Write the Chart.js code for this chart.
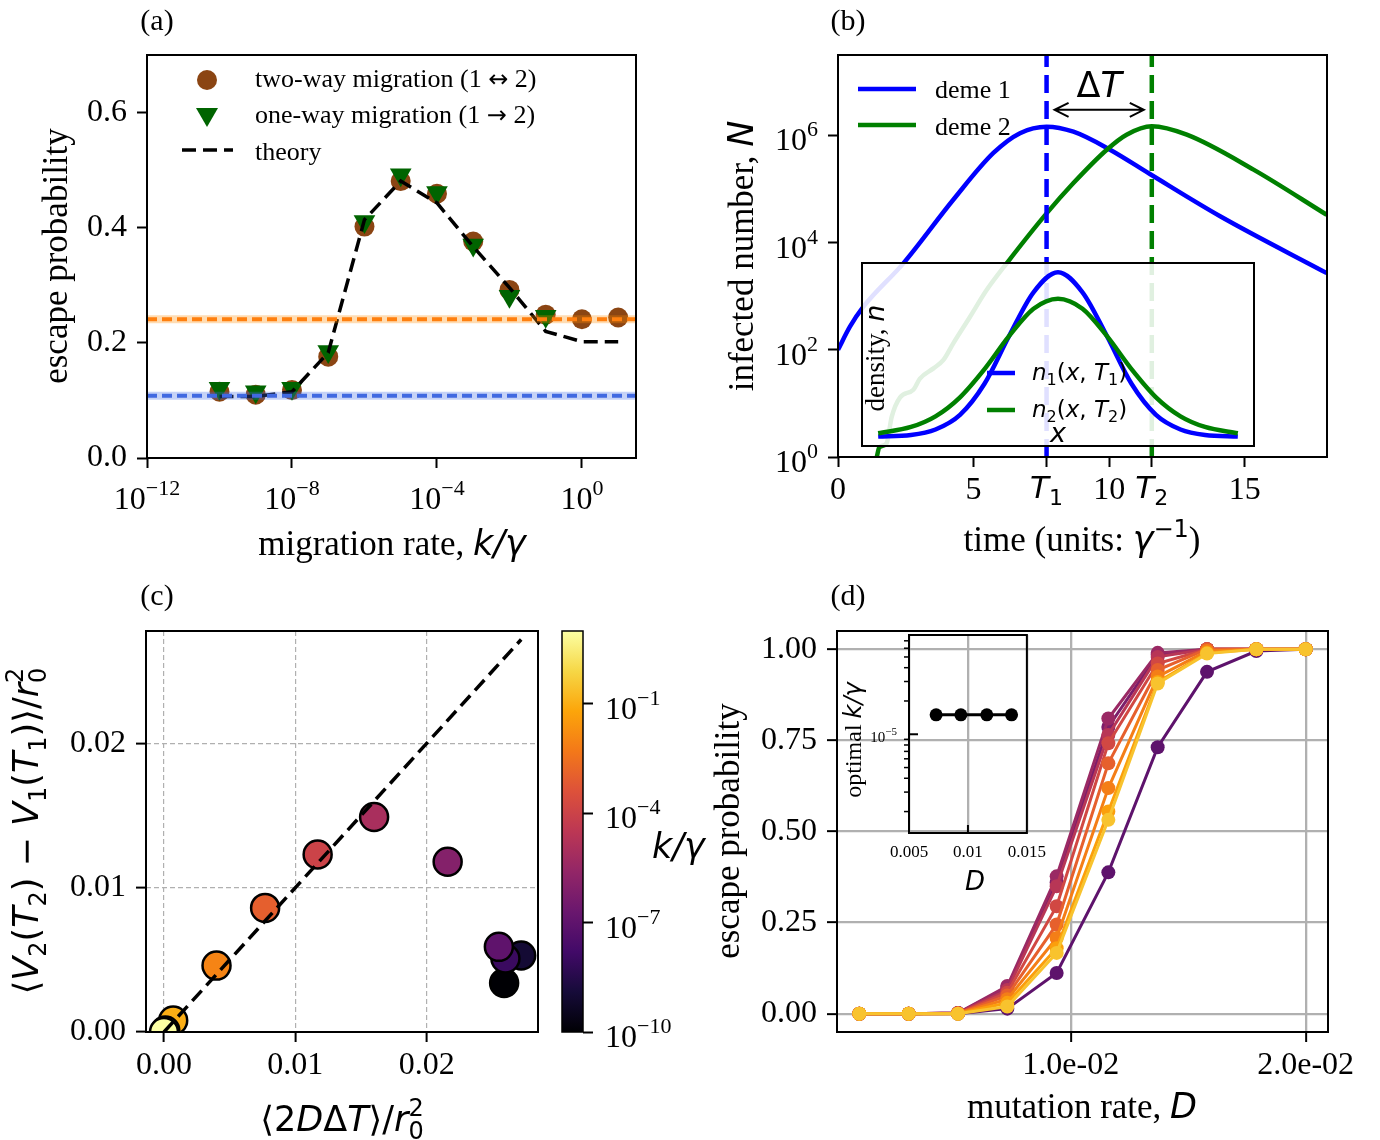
<!DOCTYPE html>
<html>
<head>
<meta charset="utf-8">
<script src="https://cdn.jsdelivr.net/npm/chart.js@4.4.1/dist/chart.umd.min.js"></script>
<style>
  body { margin: 0; background: #fff; }
  #fig { position: relative; width: 1380px; height: 1140px; overflow: hidden; background: #fff; }
  canvas { position: absolute; }
</style>
</head>
<body>
<div id="fig">
  <canvas id="chartA"></canvas>
  <canvas id="chartB"></canvas>
  <canvas id="chartC"></canvas>
  <canvas id="chartD"></canvas>
  <canvas id="colorbarC"></canvas>
  <canvas id="insetB"></canvas>
  <canvas id="insetD"></canvas>
</div>
<script>
// ================= DATA =================
// (a) escape probability vs migration rate k/gamma
const A_K = [1e-10, 1e-9, 1e-8, 1e-7, 1e-6, 1e-5, 1e-4, 1e-3, 1e-2, 1e-1, 1e0, 1e1];
const A_TWO_WAY = [0.115, 0.110, 0.118, 0.176, 0.402, 0.481, 0.459, 0.376, 0.292, 0.249, 0.241, 0.244];
const A_ONE_WAY = [0.121, 0.115, 0.121, 0.185, 0.411, 0.492, 0.461, 0.370, 0.281, 0.246];
const A_THEORY = [0.107, 0.107, 0.115, 0.183, 0.414, 0.481, 0.443, 0.367, 0.296, 0.220, 0.202, 0.202];
const A_LEVEL_ORANGE = 0.241;
const A_LEVEL_BLUE = 0.108;
const A_XRANGE = [1e-12, 31];
const A_XTICKS = [1e-12, 1e-8, 1e-4, 1e0];
const A_YTICKS = [0, 0.2, 0.4, 0.6];

// (b) infected number in each deme vs time
const B_T1 = 7.69;
const B_T2 = 11.57;
const B_TIME1 = [0, 0.44, 0.93, 2.41, 4.25, 5.73, 6.71, 7.69, 8.68, 10.03, 11.5, 14.09, 18.02];
const B_DEME1 = [1.0e2, 2.7e2, 6.3e2, 4.1e3, 6.3e4, 4.7e5, 1.1e6, 1.45e6, 1.17e6, 5.4e5, 1.9e5, 3.1e4, 2.7e3];
const B_TIME2 = [1.43, 1.52, 1.79, 1.98, 2.29, 2.78, 3.02, 3.52, 3.88, 4.25, 4.87, 5.48, 6.22, 7.69, 8.68, 9.91, 10.64, 11.57, 12.86, 15.32, 18.02];
const B_DEME2 = [1, 1.5, 1.8, 5.6, 13, 18, 29, 45, 64, 132, 414, 1.3e3, 4.1e3, 3.5e4, 1.29e5, 5.4e5, 1.03e6, 1.48e6, 1.03e6, 2.3e5, 3.3e4];
const B_YRANGE = [1, 3.16e7];
const B_XRANGE = [0, 18.03];
const B_XTICKS = [0, 5, B_T1, 10, B_T2, 15];
const B_YTICKS = [1, 1e2, 1e4, 1e6];
const B_ARROW_Y = 3.0e6;
// (b) inset: density profiles
const BI_X = [-3.67, -3, -2.5, -2, -1.5, -1, -0.5, 0, 0.5, 1, 1.5, 2, 2.5, 3, 3.67];
const BI_N1 = [0.052, 0.06, 0.09, 0.17, 0.34, 0.60, 0.84, 0.95, 0.84, 0.60, 0.34, 0.17, 0.09, 0.06, 0.052];
const BI_N2 = [0.07, 0.104, 0.162, 0.266, 0.42, 0.60, 0.75, 0.805, 0.75, 0.60, 0.42, 0.266, 0.162, 0.104, 0.07];

// (c) variance difference vs 2 D dT, coloured by k/gamma
const C_K = [1e-10, 1e-9, 1e-8, 1e-7, 1e-6, 1e-5, 1e-4, 1e-3, 1e-2, 1e-1, 1e0, 1e1];
const C_X = [0.0259, 0.0272, 0.0260, 0.0255, 0.0216, 0.0160, 0.0117, 0.0077, 0.0040, 0.0007, 0.0001, 0.0000];
const C_Y = [0.0034, 0.0053, 0.0051, 0.0059, 0.0118, 0.0149, 0.0123, 0.0086, 0.0046, 0.0008, 0.0001, 0.0000];
const C_FIT_END = 0.0272;
const C_XRANGE = [-0.00137, 0.02848];
const C_YRANGE = [0, 0.02779];
const C_TICKS = [0, 0.01, 0.02];
const CB_RANGE = [1e-10, 1e1];
const CB_TICKS = [1e-10, 1e-7, 1e-4, 1e-1];

// (d) escape probability vs mutation rate, one row per k/gamma
const D_X = [0.0010, 0.0031, 0.0052, 0.0073, 0.0094, 0.0116, 0.0137, 0.0158, 0.0179, 0.0200];
const D_K = [1e-7, 1e-6, 1e-5, 1e-4, 1e-3, 1e-2, 1e-1, 1e0, 1e1];
const D_ESC = [
  [0, 0, 0, 0.014, 0.112, 0.388, 0.731, 0.938, 0.995, 1.0],
  [0, 0, 0.002, 0.072, 0.360, 0.787, 0.985, 1.0, 1.0, 1.0],
  [0, 0, 0.002, 0.076, 0.377, 0.810, 0.990, 1.0, 1.0, 1.0],
  [0, 0, 0.002, 0.065, 0.350, 0.765, 0.979, 1.0, 1.0, 1.0],
  [0, 0, 0.001, 0.058, 0.295, 0.742, 0.961, 1.0, 1.0, 1.0],
  [0, 0, 0.001, 0.050, 0.245, 0.687, 0.943, 1.0, 1.0, 1.0],
  [0, 0, 0.001, 0.040, 0.208, 0.619, 0.925, 0.995, 1.0, 1.0],
  [0, 0, 0, 0.030, 0.180, 0.555, 0.910, 0.990, 1.0, 1.0],
  [0, 0, 0, 0.020, 0.167, 0.532, 0.906, 0.988, 1.0, 1.0]
];
const D_XRANGE = [0.00005, 0.02095];
const D_YRANGE = [-0.05, 1.05];
const D_XTICKS = [0.01, 0.02];
const D_YTICKS = [0, 0.25, 0.5, 0.75, 1];
// (d) inset: optimal k/gamma
const DI_D = [0.0073, 0.0094, 0.0116, 0.0137];
const DI_K = [1.5e-5, 1.5e-5, 1.5e-5, 1.5e-5];
const DI_XRANGE = [0.005, 0.015];
const DI_YRANGE = [1.28e-6, 7.9e-5];
const DI_XTICKS = [0.005, 0.01, 0.015];
const DI_MINOR = [2e-6, 3e-6, 4e-6, 5e-6, 6e-6, 7e-6, 8e-6, 9e-6, 2e-5, 3e-5, 4e-5, 5e-5, 6e-5, 7e-5];

// ================= STYLE HELPERS =================
const SERIF = '"Liberation Serif", "Times New Roman", serif';
const SANS = '"DejaVu Sans", sans-serif';
const S = n => `${n}px ${SERIF}`;
const M = n => `italic ${n}px ${SANS}`;
const R = n => `${n}px ${SANS}`;
const INFERNO = ['#000004', '#160b39', '#420a68', '#6a176e', '#932667', '#bc3754',
                 '#dd513a', '#f37819', '#fca50a', '#f6d746', '#fcffa4'];

Chart.defaults.font.family = SERIF;
Chart.defaults.color = '#000';

function hexRgb(h) {
  return [1, 3, 5].map(i => parseInt(h.slice(i, i + 2), 16));
}

function infernoAt(t) {
  t = Math.max(0, Math.min(1, t));
  const n = INFERNO.length - 1;
  const i = Math.min(n - 1, Math.floor(t * n));
  const f = t * n - i;
  const a = hexRgb(INFERNO[i]), b = hexRgb(INFERNO[i + 1]);
  const c = a.map((v, j) => Math.round(v + (b[j] - v) * f));
  return `rgb(${c[0]},${c[1]},${c[2]})`;
}

// colour for panel (c) / colorbar: log k over [1e-10, 1e1]
function kColor(k) {
  return infernoAt((Math.log10(k) + 10) / 11);
}

// colour for panel (d) curves: log k over [1e-7, 1e1] mapped into part of inferno
function dColor(k) {
  return infernoAt(0.27 + (Math.log10(k) + 7) / 8 * 0.59);
}

function pts(xs, ys) {
  return ys.map((y, i) => ({ x: xs[i], y: y }));
}

function mount(id, left, top, w, h) {
  const c = document.getElementById(id);
  c.width = w;
  c.height = h;
  c.style.left = left + 'px';
  c.style.top = top + 'px';
  c.style.width = w + 'px';
  c.style.height = h + 'px';
  return c;
}

function rich(ctx, x, y, parts, align, angle) {
  ctx.save();
  ctx.translate(x, y);
  if (angle) ctx.rotate(angle);
  let w = 0;
  parts.forEach(p => { ctx.font = p[1]; if (!p[3]) w += ctx.measureText(p[0]).width; });
  let cx = align === 'center' ? -w / 2 : align === 'right' ? -w : 0;
  ctx.fillStyle = '#000';
  ctx.textAlign = 'left';
  ctx.textBaseline = 'alphabetic';
  parts.forEach(p => {
    ctx.font = p[1];
    ctx.fillText(p[0], cx, p[2] || 0);
    if (!p[3]) cx += ctx.measureText(p[0]).width;
  });
  ctx.restore();
}

function drawPow(ctx, x, y, value, size, align) {
  const e = Math.round(Math.log10(value));
  const exp = (e < 0 ? '\u2212' : '') + Math.abs(e);
  rich(ctx, x, y, [['10', S(size)], [exp, S(Math.round(size * 0.7)), -Math.round(size * 0.45)]], align);
}

function seg(ctx, x1, y1, x2, y2, color, w, dash) {
  ctx.save();
  ctx.strokeStyle = color;
  ctx.lineWidth = w;
  ctx.setLineDash(dash || []);
  ctx.beginPath();
  ctx.moveTo(x1, y1);
  ctx.lineTo(x2, y2);
  ctx.stroke();
  ctx.restore();
}

function axis(o) {
  return {
    type: o.type || 'linear',
    position: o.position,
    display: o.display === undefined ? true : o.display,
    min: o.min,
    max: o.max,
    border: { display: false, dash: o.gridDash || [] },
    grid: {
      display: true,
      drawOnChartArea: !!o.gridColor,
      color: o.gridColor || 'rgba(0,0,0,0)',
      lineWidth: o.gridWidth || 1,
      drawTicks: (o.tickLen || 0) > 0,
      tickLength: o.tickLen || 0,
      tickWidth: 2,
      tickColor: '#000'
    },
    ticks: {
      display: !!o.fmt,
      font: { family: SERIF, size: o.fontSize || 32 },
      color: '#000',
      padding: o.pad || 0,
      autoSkip: false,
      maxRotation: 0,
      minRotation: 0,
      callback: o.fmt || (() => '')
    },
    afterBuildTicks: s => { if (o.ticks) s.ticks = o.ticks.map(v => ({ value: v })); },
    afterFit: s => { if (o.size !== undefined) { if (s.isHorizontal()) s.height = o.size; else s.width = o.size; } }
  };
}

function options(pad, scales, extra) {
  return {
    responsive: false,
    animation: false,
    devicePixelRatio: 1,
    events: [],
    layout: { padding: pad, autoPadding: false },
    plugins: Object.assign({ legend: { display: false }, tooltip: { enabled: false } }, extra || {}),
    scales: scales
  };
}

function deco(ox, oy, draw, before) {
  return {
    id: 'deco',
    beforeDraw(chart) { if (before) before(chart.ctx, chart); },
    afterDraw(chart) {
      const ctx = chart.ctx;
      ctx.save();
      ctx.translate(-ox, -oy);
      draw(ctx, chart, ox, oy);
      ctx.restore();
    }
  };
}

Chart.register({
  id: 'frame',
  afterDatasetsDraw(chart, args, opts) {
    if (!opts || !opts.width) return;
    const a = chart.chartArea, ctx = chart.ctx;
    ctx.save();
    ctx.strokeStyle = '#000';
    ctx.lineWidth = opts.width;
    ctx.strokeRect(a.left, a.top, a.right - a.left, a.bottom - a.top);
    ctx.restore();
  }
});

// ================= PANEL (a) =================
(function () {
  const ox = 0, oy = 0;
  const cv = mount('chartA', ox, oy, 690, 575);
  const hline = (y, color, w, dash, order) => ({
    data: [{ x: A_XRANGE[0], y: y }, { x: A_XRANGE[1], y: y }],
    showLine: true, borderColor: color, borderWidth: w, borderDash: dash || [], pointRadius: 0, order: order
  });
  new Chart(cv, {
    type: 'scatter',
    data: {
      datasets: [
        { data: pts(A_K, A_TWO_WAY), pointRadius: 10, pointBackgroundColor: '#8b4513', pointBorderWidth: 0, order: 5 },
        { data: pts(A_K, A_ONE_WAY), pointStyle: 'triangle', rotation: 180, pointRadius: 12.5,
          pointBackgroundColor: '#006400', pointBorderWidth: 0, order: 4 },
        { data: pts(A_K, A_THEORY), showLine: true, borderColor: '#000', borderWidth: 3.5,
          borderDash: [14, 7], pointRadius: 0, order: 3 },
        hline(A_LEVEL_ORANGE, 'rgba(255,140,0,0.3)', 8, [], 2),
        hline(A_LEVEL_BLUE, 'rgba(65,105,225,0.3)', 8, [], 2),
        hline(A_LEVEL_ORANGE, '#ff7f0e', 4, [10, 5], 1),
        hline(A_LEVEL_BLUE, '#4169e1', 4, [10, 5], 1)
      ]
    },
    options: options({ left: 0, top: 55, right: 54, bottom: 0 }, {
      x: axis({ type: 'logarithmic', position: 'bottom', min: A_XRANGE[0], max: A_XRANGE[1],
                ticks: A_XTICKS, tickLen: 10, size: 117 }),
      y: axis({ position: 'left', min: 0, max: 0.70, ticks: A_YTICKS, tickLen: 10, size: 147,
                pad: 10, fmt: v => v.toFixed(1) })
    }, { frame: { width: 2 } }),
    plugins: [deco(ox, oy, (ctx, chart) => {
      const sx = chart.scales.x;
      sx.ticks.forEach(t => drawPow(ctx, sx.getPixelForValue(t.value) + ox, 509, t.value, 32, 'center'));
      // legend
      ctx.fillStyle = '#8b4513';
      ctx.beginPath(); ctx.arc(207, 80, 10, 0, 2 * Math.PI); ctx.fill();
      ctx.fillStyle = '#006400';
      ctx.beginPath(); ctx.moveTo(196, 108); ctx.lineTo(218, 108); ctx.lineTo(207, 127); ctx.closePath(); ctx.fill();
      seg(ctx, 182, 150, 233, 150, '#000', 3.5, [14, 7]);
      rich(ctx, 255, 87, [['two-way migration (1 ', S(26)], ['\u2194', R(24)], [' 2)', S(26)]], 'left');
      rich(ctx, 255, 123, [['one-way migration (1 ', S(26)], ['\u2192', R(24)], [' 2)', S(26)]], 'left');
      rich(ctx, 255, 160, [['theory', S(26)]], 'left');
      // labels
      rich(ctx, 157, 30, [['(a)', S(30)]], 'center');
      rich(ctx, 67, 256, [['escape probability', S(35)]], 'center', -Math.PI / 2);
      rich(ctx, 392, 555, [['migration rate, ', S(35)], ['k/\u03b3', M(35)]], 'center');
    })]
  });
})();

// ================= PANEL (b) =================
(function () {
  const ox = 690, oy = 0;
  const cv = mount('chartB', ox, oy, 690, 575);
  const vline = (x, color, order) => ({
    data: [{ x: x, y: B_YRANGE[0] }, { x: x, y: B_YRANGE[1] }],
    showLine: true, borderColor: color, borderWidth: 4.5, borderDash: [18, 8], pointRadius: 0, order: order
  });
  new Chart(cv, {
    type: 'scatter',
    data: {
      datasets: [
        { data: pts(B_TIME1, B_DEME1), showLine: true, borderColor: '#0000ff', borderWidth: 4.5,
          pointRadius: 0, cubicInterpolationMode: 'monotone', order: 3 },
        { data: pts(B_TIME2, B_DEME2), showLine: true, borderColor: '#008000', borderWidth: 4.5,
          pointRadius: 0, cubicInterpolationMode: 'monotone', order: 2 },
        vline(B_T1, '#0000ff', 1),
        vline(B_T2, '#008000', 0)
      ]
    },
    options: options({ left: 0, top: 55, right: 53, bottom: 0 }, {
      x: axis({ position: 'bottom', min: B_XRANGE[0], max: B_XRANGE[1], ticks: B_XTICKS, tickLen: 10,
                size: 118, pad: 4, fmt: v => (v === B_T1 || v === B_T2) ? '' : String(v) }),
      y: axis({ type: 'logarithmic', position: 'left', min: B_YRANGE[0], max: B_YRANGE[1],
                ticks: B_YTICKS, tickLen: 10, size: 148 })
    }, { frame: { width: 2 } }),
    plugins: [deco(ox, oy, (ctx, chart) => {
      const sx = chart.scales.x, sy = chart.scales.y;
      sy.ticks.forEach(t => drawPow(ctx, 818, sy.getPixelForValue(t.value) + oy + 15, t.value, 32, 'right'));
      [[B_T1, '1'], [B_T2, '2']].forEach(([v, n]) => {
        rich(ctx, sx.getPixelForValue(v) + ox, 498, [['T', M(31)], [n, R(22), 7]], 'center');
      });
      // legend
      seg(ctx, 858, 89, 916, 89, '#0000ff', 4.5);
      seg(ctx, 858, 125, 916, 125, '#008000', 4.5);
      rich(ctx, 935, 98, [['deme 1', S(26)]], 'left');
      rich(ctx, 935, 135, [['deme 2', S(26)]], 'left');
      // delta T arrow
      const x1 = sx.getPixelForValue(B_T1) + ox + 8, x2 = sx.getPixelForValue(B_T2) + ox - 8;
      const ya = sy.getPixelForValue(B_ARROW_Y) + oy;
      ctx.save();
      ctx.strokeStyle = '#000'; ctx.lineWidth = 2;
      ctx.beginPath();
      ctx.moveTo(x1, ya); ctx.lineTo(x2, ya);
      ctx.moveTo(x1 + 14, ya - 7); ctx.lineTo(x1, ya); ctx.lineTo(x1 + 14, ya + 7);
      ctx.moveTo(x2 - 14, ya - 7); ctx.lineTo(x2, ya); ctx.lineTo(x2 - 14, ya + 7);
      ctx.stroke();
      ctx.restore();
      rich(ctx, (x1 + x2) / 2, 97, [['\u0394', R(35)], ['T', M(35)]], 'center');
      // labels
      rich(ctx, 848, 30, [['(b)', S(30)]], 'center');
      rich(ctx, 753, 256, [['infected number, ', S(35)], ['N', M(35)]], 'center', -Math.PI / 2);
      rich(ctx, 1082, 551, [['time (units: ', S(35)], ['\u03b3', M(35)], ['\u22121', R(24), -14], [')', S(35)]], 'center');
    })]
  });
})();

// ================= PANEL (b) INSET =================
(function () {
  const ox = 850, oy = 255;
  const cv = mount('insetB', ox, oy, 420, 200);
  new Chart(cv, {
    type: 'scatter',
    data: {
      datasets: [
        { data: pts(BI_X, BI_N1), showLine: true, borderColor: '#0000ff', borderWidth: 4.5,
          pointRadius: 0, cubicInterpolationMode: 'monotone', order: 1 },
        { data: pts(BI_X, BI_N2), showLine: true, borderColor: '#008000', borderWidth: 4.5,
          pointRadius: 0, cubicInterpolationMode: 'monotone', order: 0 }
      ]
    },
    options: options({ left: 12, top: 8, right: 16, bottom: 9 }, {
      x: { type: 'linear', min: -4, max: 4, display: false },
      y: { type: 'linear', min: 0, max: 1, display: false }
    }, { frame: { width: 2 } }),
    plugins: [deco(ox, oy, (ctx) => {
      seg(ctx, 987, 373, 1015, 373, '#0000ff', 4.5);
      seg(ctx, 987, 410, 1015, 410, '#008000', 4.5);
      rich(ctx, 1032, 380, [['n', M(23)], ['1', R(16), 5], ['(', R(23)], ['x', M(23)], [', ', R(23)],
                           ['T', M(23)], ['1', R(16), 5], [')', R(23)]], 'left');
      rich(ctx, 1032, 417, [['n', M(23)], ['2', R(16), 5], ['(', R(23)], ['x', M(23)], [', ', R(23)],
                           ['T', M(23)], ['2', R(16), 5], [')', R(23)]], 'left');
      rich(ctx, 1058, 442, [['x', M(27)]], 'center');
      rich(ctx, 884, 358, [['density, ', S(27)], ['n', M(27)]], 'center', -Math.PI / 2);
    }, (ctx, chart) => {
      const a = chart.chartArea;
      ctx.save();
      ctx.fillStyle = 'rgba(255,255,255,0.88)';
      ctx.fillRect(a.left, a.top, a.right - a.left, a.bottom - a.top);
      ctx.restore();
    })]
  });
})();

// ================= PANEL (c) =================
(function () {
  const ox = 0, oy = 575;
  const cv = mount('chartC', ox, oy, 690, 565);
  new Chart(cv, {
    type: 'scatter',
    data: {
      datasets: [
        { data: [{ x: 0, y: 0 }, { x: C_FIT_END, y: C_FIT_END }], showLine: true, borderColor: '#000',
          borderWidth: 3.5, borderDash: [14, 7], pointRadius: 0, order: 0 },
        { data: pts(C_X, C_Y), pointRadius: 14, pointBorderWidth: 2.5, pointBorderColor: '#000',
          pointBackgroundColor: C_K.map(kColor), clip: 0, order: 1 }
      ]
    },
    options: options({ left: 0, top: 56, right: 152, bottom: 0 }, {
      x: axis({ position: 'bottom', min: C_XRANGE[0], max: C_XRANGE[1], ticks: C_TICKS, tickLen: 10,
                size: 108, pad: 4, fmt: v => v.toFixed(2), gridColor: '#b0b0b0', gridWidth: 1.2, gridDash: [5, 3] }),
      y: axis({ position: 'left', min: C_YRANGE[0], max: C_YRANGE[1], ticks: C_TICKS, tickLen: 10,
                size: 146, pad: 10, fmt: v => v.toFixed(2), gridColor: '#b0b0b0', gridWidth: 1.2, gridDash: [5, 3] })
    }, { frame: { width: 2 } }),
    plugins: [deco(ox, oy, (ctx) => {
      rich(ctx, 157, 605, [['(c)', S(30)]], 'center');
      rich(ctx, 342, 1131, [['\u27e82', R(35)], ['D', M(35)], ['\u0394', R(35)], ['T', M(35)], ['\u27e9/', R(35)],
                            ['r', M(35)], ['0', R(24), 8, true], ['2', R(24), -15]], 'center');
      rich(ctx, 38, 831, [['\u27e8', R(35)], ['V', M(35)], ['2', R(24), 8], ['(', R(35)], ['T', M(35)], ['2', R(24), 8],
                          [') \u2212 ', R(35)], ['V', M(35)], ['1', R(24), 8], ['(', R(35)], ['T', M(35)], ['1', R(24), 8],
                          [')\u27e9/', R(35)], ['r', M(35)], ['0', R(24), 8, true], ['2', R(24), -15]],
           'center', -Math.PI / 2);
    })]
  });
})();

// ================= COLORBAR (c) =================
(function () {
  const ox = 540, oy = 620;
  const cv = mount('colorbarC', ox, oy, 180, 430);
  new Chart(cv, {
    type: 'bar',
    data: {
      labels: [''],
      datasets: [{
        data: [[CB_RANGE[0], CB_RANGE[1]]],
        barPercentage: 1, categoryPercentage: 1, borderWidth: 0,
        backgroundColor: (c) => {
          const a = c.chart.chartArea;
          if (!a) return '#000';
          const g = c.chart.ctx.createLinearGradient(0, a.bottom, 0, a.top);
          INFERNO.forEach((col, i) => g.addColorStop(i / (INFERNO.length - 1), col));
          return g;
        }
      }]
    },
    options: options({ left: 22, top: 11, right: 0, bottom: 18 }, {
      x: { type: 'category', display: false },
      y: axis({ type: 'logarithmic', position: 'right', min: CB_RANGE[0], max: CB_RANGE[1],
                ticks: CB_TICKS, tickLen: 10, size: 137 })
    }, { frame: { width: 1.5 } }),
    plugins: [deco(ox, oy, (ctx, chart) => {
      const sy = chart.scales.y;
      sy.ticks.forEach(t => drawPow(ctx, 605, sy.getPixelForValue(t.value) + oy + 15, t.value, 32, 'left'));
      rich(ctx, 652, 858, [['k/\u03b3', M(35)]], 'left');
    })]
  });
})();

// ================= PANEL (d) =================
(function () {
  const ox = 690, oy = 575;
  const cv = mount('chartD', ox, oy, 690, 565);
  const n = D_ESC.length;
  new Chart(cv, {
    type: 'scatter',
    data: {
      datasets: D_ESC.map((row, i) => ({
        data: pts(D_X, row), showLine: true, borderColor: dColor(D_K[i]), borderWidth: 3,
        pointRadius: 7, pointBackgroundColor: dColor(D_K[i]), pointBorderWidth: 0, order: n - i
      }))
    },
    options: options({ left: 0, top: 56, right: 52, bottom: 0 }, {
      x: axis({ position: 'bottom', min: D_XRANGE[0], max: D_XRANGE[1], ticks: D_XTICKS, tickLen: 10,
                size: 108, pad: 4, fmt: v => v.toExponential(1).replace(/e-(\d)$/, 'e-0$1'),
                gridColor: '#b0b0b0', gridWidth: 2.3 }),
      y: axis({ position: 'left', min: D_YRANGE[0], max: D_YRANGE[1], ticks: D_YTICKS, tickLen: 10,
                size: 147, pad: 10, fmt: v => v.toFixed(2), gridColor: '#b0b0b0', gridWidth: 2.3 })
    }, { frame: { width: 2 } }),
    plugins: [deco(ox, oy, (ctx) => {
      rich(ctx, 848, 605, [['(d)', S(30)]], 'center');
      rich(ctx, 739, 831, [['escape probability', S(35)]], 'center', -Math.PI / 2);
      rich(ctx, 1082, 1118, [['mutation rate, ', S(35)], ['D', M(35)]], 'center');
    })]
  });
})();

// ================= PANEL (d) INSET =================
(function () {
  const ox = 840, oy = 625;
  const cv = mount('insetD', ox, oy, 215, 275);
  new Chart(cv, {
    type: 'scatter',
    data: {
      datasets: [{
        data: pts(DI_D, DI_K), showLine: true, borderColor: '#000', borderWidth: 3,
        pointRadius: 6.5, pointBackgroundColor: '#000', pointBorderWidth: 0
      }]
    },
    options: options({ left: 0, top: 10, right: 13, bottom: 0 }, {
      x: axis({ position: 'bottom', min: DI_XRANGE[0], max: DI_XRANGE[1], ticks: DI_XTICKS, size: 67,
                pad: 9, fontSize: 17, fmt: v => String(v), gridColor: '#b0b0b0', gridWidth: 2.3 }),
      y: axis({ type: 'logarithmic', position: 'left', min: DI_YRANGE[0], max: DI_YRANGE[1],
                ticks: [1e-5], size: 69 })
    }, { frame: { width: 2 } }),
    plugins: [deco(ox, oy, (ctx, chart) => {
      const sx = chart.scales.x, sy = chart.scales.y, a = chart.chartArea;
      const L = a.left + ox, B = a.bottom + oy;
      DI_MINOR.forEach(v => {
        const y = sy.getPixelForValue(v) + oy;
        seg(ctx, L - 5, y, L, y, '#000', 1.5);
      });
      const y5 = sy.getPixelForValue(1e-5) + oy;
      seg(ctx, L, y5, L + 9, y5, '#000', 2);
      const x01 = sx.getPixelForValue(0.01) + ox;
      seg(ctx, x01, B, x01, B - 8, '#000', 2);
      drawPow(ctx, 897, y5 + 8, 1e-5, 15, 'right');
      rich(ctx, 975, 890, [['D', M(26)]], 'center');
      rich(ctx, 861, 740, [['optimal ', S(24)], ['k/\u03b3', M(24)]], 'center', -Math.PI / 2);
    })]
  });
})();
</script>
</body>
</html>
